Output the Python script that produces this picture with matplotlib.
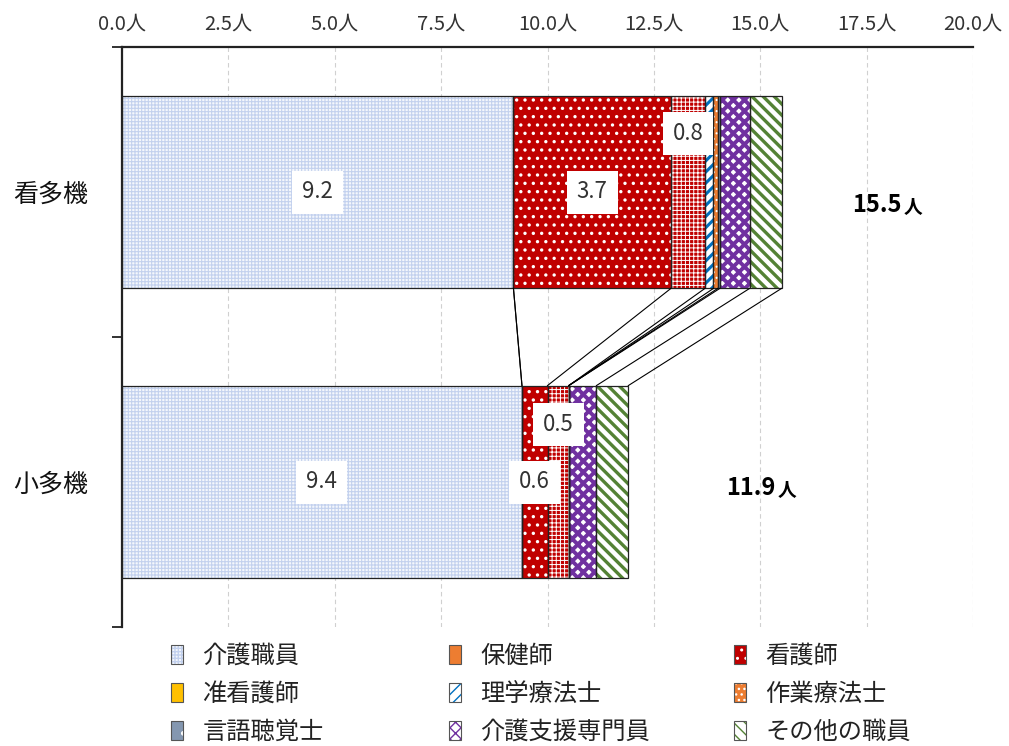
import numpy as np
import matplotlib.pyplot as plt
from matplotlib.patches import Patch
from matplotlib.legend_handler import HandlerTuple

plt.rcParams['font.family'] = ['Noto Sans CJK JP', 'DejaVu Sans']

# data
categories = ['看多機', '小多機']
series = ['介護職員', '保健師', '看護師', '准看護師', '理学療法士',
          '作業療法士', '言語聴覚士', '介護支援専門員', 'その他の職員']
kantaki = [9.2, 0.0, 3.7, 0.8, 0.2, 0.1, 0.05, 0.7, 0.75]
shotaki = [9.4, 0.0, 0.6, 0.5, 0.0, 0.0, 0.0, 0.65, 0.75]
xticks = np.arange(0, 20.01, 2.5)
xlabels = ['%.1f人' % v for v in xticks]

values = np.array([kantaki, shotaki])
ypos = [1.5, 0.5]
bar_h = 0.665

# styles: facecolor, hatch, hatch colour, hatch linewidth
styles = [
    ('#f4f7fc', '+++++', '#c3d1ee', 0.8),
    ('#ed7d31', '', '#ed7d31', 0.5),
    ('#c00000', '..', 'white', 1.2),
    ('#c00000', '++++', 'white', 0.7),
    ('white', '///', '#0070c0', 2.2),
    ('#ed7d31', '...', 'white', 0.8),
    ('#8497b0', '.', 'white', 1.0),
    ('white', 'xxx', '#7030a0', 2.8),
    ('white', '\\\\\\', '#548235', 2.4),
]
# legend swatches (the legend keys do not all match the bar fills)
legend_styles = list(styles)
legend_styles[3] = ('#ffc000', '', '#ffc000', 0.5)

fig = plt.figure(figsize=(10.09, 7.46), dpi=100)
ax = fig.add_axes([122/1009, 1 - 627/746, (973-122)/1009, (627-47)/746])

for j, name in enumerate(series):
    fc, hatch, hc, hlw = styles[j]
    left = values[:, :j].sum(axis=1)
    bars = ax.barh(ypos, values[:, j], height=bar_h, left=left, color=fc,
                   hatch=hatch, edgecolor=hc, linewidth=0, zorder=2)
    for b in bars:
        if hasattr(b, 'set_hatch_linewidth'):
            b.set_hatch_linewidth(hlw)
    ax.barh(ypos, values[:, j], height=bar_h, left=left, facecolor='none',
            edgecolor='#222222', linewidth=0.9, zorder=3)

# series lines between the two bars
cum = np.cumsum(values, axis=1)
for j in range(len(series)):
    ax.plot([cum[0, j], cum[1, j]], [ypos[0] - bar_h/2, ypos[1] + bar_h/2],
            color='black', linewidth=0.8, zorder=3)

# data labels (value, x, y)
labels = [
    (kantaki[0], kantaki[0]/2, 1.5),
    (kantaki[2], cum[0, 1] + kantaki[2]/2, 1.5),
    (kantaki[3], cum[0, 2] + kantaki[3]/2, 1.703),
    (shotaki[0], shotaki[0]/2, 0.5),
    (shotaki[2], cum[1, 1] + shotaki[2]/2, 0.5),
    (shotaki[3], cum[1, 2] + shotaki[3]/2, 0.697),
]
for v, x, y in labels:
    ax.text(x, y, '%.1f' % v, ha='center', va='center', fontsize=16,
            color='#333333', zorder=5,
            bbox=dict(boxstyle='square,pad=0.45', fc='white', ec='none'))

# totals
totals = values.sum(axis=1)
total_pos = [(18.33, 1.455), (15.37, 0.479)]
for t, (x, y) in zip(totals, total_pos):
    ax.text(x, y, '%.1f' % t, ha='right', va='center', fontsize=17,
            fontweight='bold', color='black', zorder=5)
    ax.text(x + 0.03, y - 0.008, '人', ha='left', va='center', fontsize=13.5,
            fontweight='bold', color='black', zorder=5)

ax.set_xlim(0, 20)
ax.set_ylim(0, 2)
ax.xaxis.tick_top()
ax.set_xticks(xticks)
ax.set_xticklabels(xlabels, fontsize=14.5, color='#333333')
ax.tick_params(axis='x', length=0, pad=9)
ax.grid(axis='x', color='#d0d0d0', linestyle=(0, (4, 3)), linewidth=0.8,
        zorder=0)

ax.set_yticks([0, 1, 2])
ax.set_yticklabels([])
ax.set_yticks(ypos, minor=True)
ax.set_yticklabels(categories, minor=True, fontsize=18, color='#111111')
ax.tick_params(axis='y', which='major', length=7, width=1.3, direction='out',
               color='#222222')
ax.tick_params(axis='y', which='minor', length=0, pad=24)

for s in ['bottom', 'right']:
    ax.spines[s].set_visible(False)
ax.spines['top'].set_linewidth(1.6)
ax.spines['left'].set_linewidth(1.6)
ax.spines['top'].set_color('#222222')
ax.spines['left'].set_color('#222222')

# legend in three columns
handles = []
for fc, hatch, hc, hlw in legend_styles:
    p1 = Patch(facecolor=fc, hatch=hatch, edgecolor=hc, linewidth=0)
    if hasattr(p1, 'set_hatch_linewidth'):
        p1.set_hatch_linewidth(min(hlw, 1.5))
    p2 = Patch(facecolor='none', edgecolor='#555555', linewidth=0.8)
    handles.append((p1, p2))

col_x = [166/1009, 444/1009, 729/1009]
for c in range(3):
    idx = [c, c + 3, c + 6]
    leg = fig.legend([handles[i] for i in idx], [series[i] for i in idx],
                     loc='upper left', bbox_to_anchor=(col_x[c], 1 - 638/746),
                     frameon=False, fontsize=17.5, labelspacing=0.5,
                     handlelength=0.5, handleheight=0.85, handletextpad=0.8,
                     borderaxespad=0, borderpad=0.2,
                     handler_map={tuple: HandlerTuple(ndivide=1, pad=0)})
    for t in leg.get_texts():
        t.set_color('#222222')

fig.savefig('out.png', dpi=100)
